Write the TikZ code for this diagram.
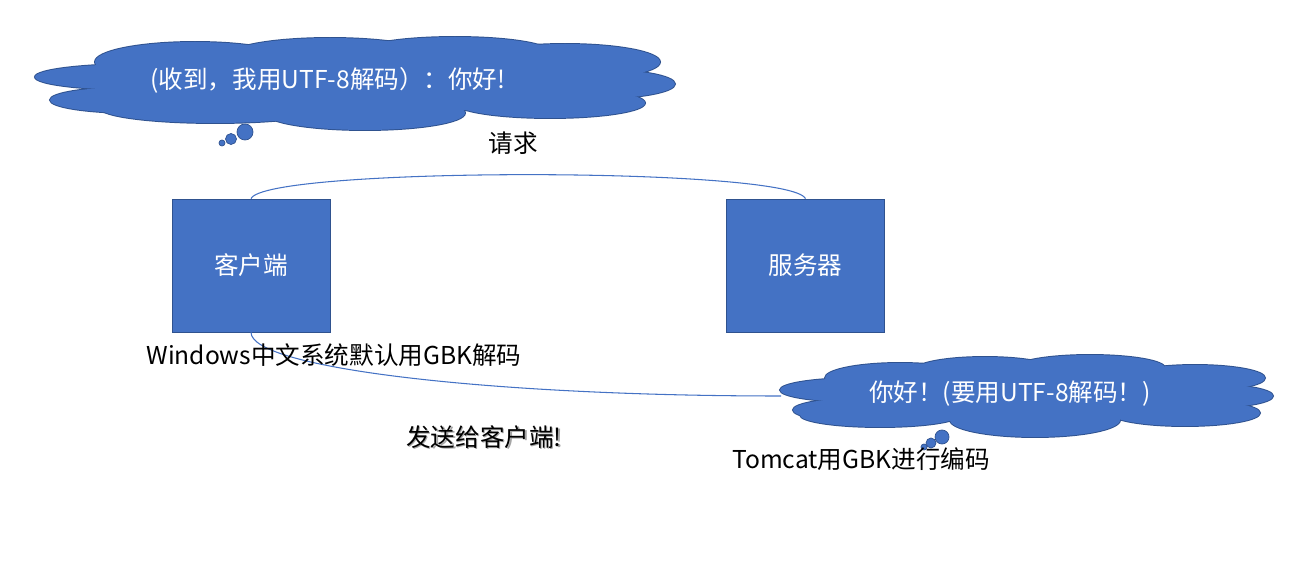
\documentclass[tikz,border=0pt]{standalone}
\usepackage{fontspec}
\setmainfont{Noto Sans CJK SC}
\usetikzlibrary{positioning}
\definecolor{boxblue}{RGB}{68,114,196}
\definecolor{edgeblue}{RGB}{47,82,143}
% a cloud made of overlapping ellipses: outlines first, then the fill on top
\newcommand{\puffcloud}[1]{
\foreach \cx/\cy/\rx/\ry in {#1}
    \draw[edgeblue, line width=1.1pt] (\cx,\cy) ellipse [x radius=\rx, y radius=\ry];
\foreach \cx/\cy/\rx/\ry in {#1}
    \fill[boxblue] (\cx,\cy) ellipse [x radius=\rx, y radius=\ry];
}
\newcommand{\bubble}[3]{
\draw[edgeblue, fill=boxblue, line width=0.4pt] (#1,#2) circle [radius=#3];
}
\tikzset{
  machine/.style={draw=edgeblue, fill=boxblue, text=white,
    minimum width=3.16cm, minimum height=2.66cm,
    font=\fontsize{14}{16}\selectfont},
  cloudtext/.style={text=white, font=\fontsize{14}{16}\selectfont},
  link/.style={boxblue, line width=0.6pt},
  note/.style={font=\fontsize{14}{16}\selectfont}
}

\begin{document}
\begin{tikzpicture}[x=0.02cm, y=-0.02cm]
    \useasboundingbox (0,0) rectangle (1294,577);

    % the two machines
    \node[machine] (client) at (251,265.5) {客户端};
    \node[machine] (server) at (805.5,265.5) {服务器};
    \coordinate (replyedge) at (781,396);

    % request and answer
    \draw[link] (client.north) .. controls +(14,-32) and +(-15,-32) .. (server.north);
    \draw[link] (client.south) .. controls +(0,36) and +(-290,0) .. (replyedge);
    \node[note] (req) at (513,143) {请求};

    % thought of the client
    \puffcloud{140/77/105/13, 135/100/85/13, 195/62/100/20, 330/55/100/17,
      455/52/95/15, 565/62/95/18, 590/84/85/15, 550/103/95/15,
      365/113/100/17, 215/108/115/15, 355/83/260/30}
    \bubble{245}{132}{8} \bubble{231}{139}{5.5} \bubble{222}{143}{3}
    \node[cloudtext] (ack) at (328,80) {(收到，我用UTF-8解码）：你好!};

    % thought of the server
    \puffcloud{860/390/80/12, 865/410/72/12, 900/378/75/15, 985/370/70/13,
      1090/368/75/13, 1195/378/70/13, 1205/396/68/12, 1185/413/75/13,
      1035/420/85/17, 880/415/80/12, 1027/396/200/25}
    \bubble{942}{437}{7} \bubble{931}{443}{5} \bubble{924}{447}{3}
    \node[cloudtext] (reply) at (1010,394) {你好！(要用UTF-8解码！)};

    % notes
    \node[note] (wincode) at (334,355) {Windows中文系统默认用GBK解码};
    \node[note] (tomcat) at (861,459) {Tomcat用GBK进行编码};
    \node[note, text=black!35] (sendshadow) at (485.5,438.5) {发送给客户端!};
    \node[note] (send) at (484,437) {发送给客户端!};
\end{tikzpicture}
\end{document}
